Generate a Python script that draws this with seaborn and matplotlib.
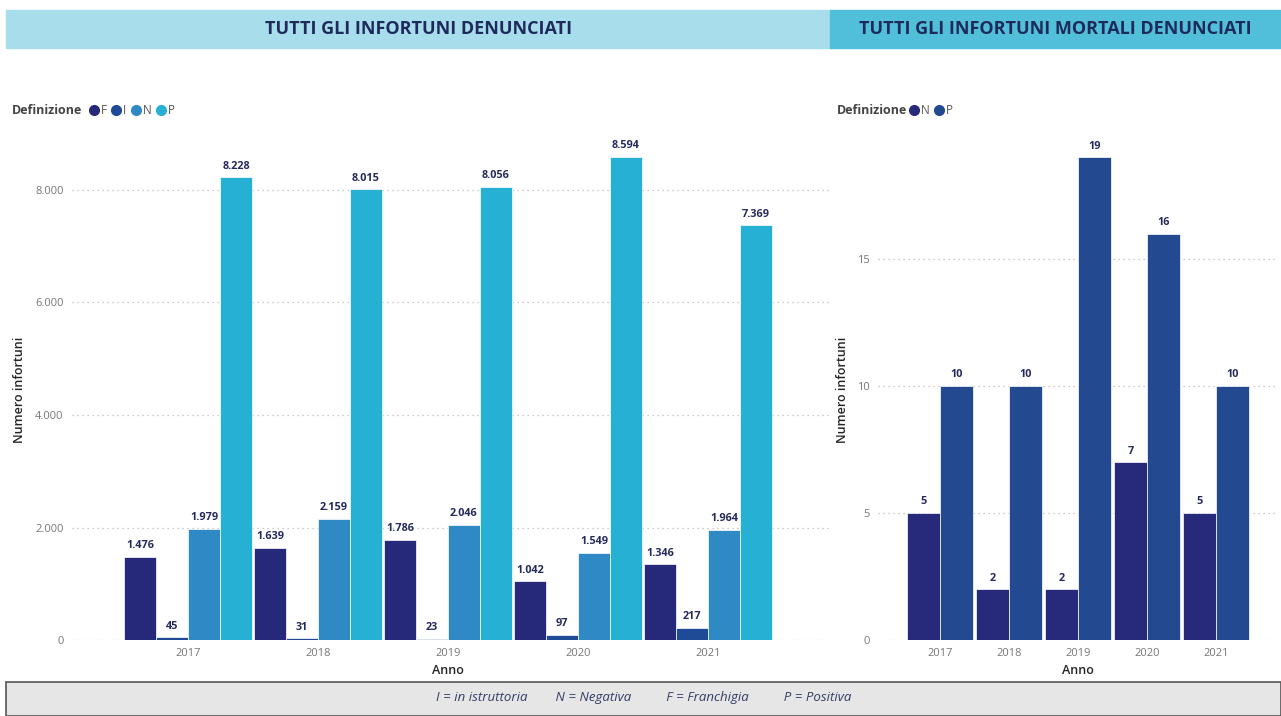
import matplotlib
matplotlib.use("Agg")
import matplotlib.pyplot as plt
from matplotlib.patches import Rectangle
from matplotlib.lines import Line2D
from matplotlib.ticker import FuncFormatter
import seaborn as sns
import pandas as pd

years = ["2017", "2018", "2019", "2020", "2021"]

# tutti gli infortuni denunciati
def_all = ["F", "I", "N", "P"]
f_vals = [1476, 1639, 1786, 1042, 1346]
i_vals = [45, 31, 23, 97, 217]
n_vals = [1979, 2159, 2046, 1549, 1964]
p_vals = [8228, 8015, 8056, 8594, 7369]

# infortuni mortali
def_mort = ["N", "P"]
mort_n = [5, 2, 2, 7, 5]
mort_p = [10, 10, 19, 16, 10]

colors_all = ["#26297A", "#1E4A96", "#2F89C4", "#25B0D4"]
colors_mort = ["#27297A", "#234A91"]

TITLE_COL = "#1F2A5C"
LABEL_COL = "#252A5E"
TICK_COL = "#777777"


def it_fmt(v, pos=None):
    return f"{v:,.0f}".replace(",", ".")


df_all = pd.DataFrame({
    "Anno": years * 4,
    "Definizione": [d for d in def_all for _ in years],
    "Numero infortuni": f_vals + i_vals + n_vals + p_vals,
})
df_mort = pd.DataFrame({
    "Anno": years * 2,
    "Definizione": [d for d in def_mort for _ in years],
    "Numero infortuni": mort_n + mort_p,
})

sns.set_theme(style="white")
plt.rcParams["font.family"] = ["Open Sans", "DejaVu Sans"]

W, H = 1281, 716
fig = plt.figure(figsize=(W / 100, H / 100), dpi=100)


def px(x0, y0, x1, y1):
    # pixel box -> figure rect
    return [x0 / W, 1 - y1 / H, (x1 - x0) / W, (y1 - y0) / H]


# header bars
fig.patches.append(Rectangle((6 / W, 1 - 48 / H), (830 - 6) / W, 38 / H,
                             transform=fig.transFigure, color="#A8DEEC", zorder=0))
fig.patches.append(Rectangle((830 / W, 1 - 48 / H), (1281 - 830) / W, 38 / H,
                             transform=fig.transFigure, color="#52BFDA", zorder=0))
fig.text(419 / W, 1 - 29 / H, "TUTTI GLI INFORTUNI DENUNCIATI", ha="center", va="center",
         fontsize=13, fontweight="bold", color=TITLE_COL)
fig.text(1055 / W, 1 - 29 / H, "TUTTI GLI INFORTUNI MORTALI DENUNCIATI", ha="center",
         va="center", fontsize=13, fontweight="bold", color=TITLE_COL)

# footer
fig.patches.append(Rectangle((6 / W, 0), (1281 - 6) / W, 34 / H, transform=fig.transFigure,
                             facecolor="#E6E6E6", edgecolor="#555555", linewidth=1.2, zorder=0))
fig.text(644 / W, 1 - 698 / H,
         "I = in istruttoria        N = Negativa          F = Franchigia          P = Positiva",
         ha="center", va="center", fontsize=9.5, fontstyle="italic", color="#333D66")


def style_axis(ax, ymax, ticks, fmt):
    ax.set_ylim(0, ymax)
    ax.set_yticks(ticks)
    ax.yaxis.set_major_formatter(FuncFormatter(fmt))
    ax.grid(axis="y", linestyle=(0, (1, 3)), color="#BBBBBB", linewidth=0.9)
    ax.set_axisbelow(True)
    for s in ax.spines.values():
        s.set_visible(False)
    ax.tick_params(axis="both", length=0, labelsize=8, colors=TICK_COL, pad=6)
    ax.set_xlabel("")
    ax.set_ylabel("")


# left chart
ax1 = fig.add_axes(px(72, 145, 830, 640))
sns.barplot(data=df_all, x="Anno", y="Numero infortuni", hue="Definizione",
            hue_order=def_all, palette=colors_all, width=0.985, saturation=1,
            edgecolor="white", linewidth=0.5, legend=False, ax=ax1)
ax1.set_xlim((72 - 188) / 130, (830 - 188) / 130)
style_axis(ax1, 8800, [0, 2000, 4000, 6000, 8000], it_fmt)
for c in ax1.containers:
    ax1.bar_label(c, labels=[it_fmt(v) for v in c.datavalues], padding=4,
                  fontsize=7.8, fontweight="bold", color=LABEL_COL)

# right chart
ax2 = fig.add_axes(px(878, 132, 1275, 640))
sns.barplot(data=df_mort, x="Anno", y="Numero infortuni", hue="Definizione",
            hue_order=def_mort, palette=colors_mort, width=0.96, saturation=1,
            edgecolor="white", linewidth=0.5, legend=False, ax=ax2)
ax2.set_xlim((878 - 940) / 69, (1275 - 940) / 69)
style_axis(ax2, 20, [0, 5, 10, 15], lambda v, p: f"{v:.0f}")
for c in ax2.containers:
    ax2.bar_label(c, labels=[f"{v:.0f}" for v in c.datavalues], padding=4,
                  fontsize=7.8, fontweight="bold", color=LABEL_COL)

# axis titles
for x in (20, 843):
    fig.text(x / W, 1 - 390 / H, "Numero infortuni", rotation=90, ha="center", va="center",
             fontsize=9, fontweight="semibold", color="#252525")
for x in (448, 1078):
    fig.text(x / W, 1 - 670 / H, "Anno", ha="center", va="center",
             fontsize=9, fontweight="semibold", color="#252525")


# legends
def legend(x_text, x_leg, labels, cols):
    fig.text(x_text / W, 1 - 111 / H, "Definizione", ha="left", va="center",
             fontsize=9, fontweight="bold", color="#444444")
    handles = [Line2D([], [], marker="o", linestyle="", markersize=7, color=c) for c in cols]
    leg = fig.legend(handles, labels, loc="center left", bbox_to_anchor=(x_leg / W, 1 - 111 / H),
                     ncol=len(labels), frameon=False, handletextpad=0.3, columnspacing=0.5,
                     handlelength=0.6, borderpad=0, borderaxespad=0, fontsize=8.5)
    for t in leg.get_texts():
        t.set_color("#555555")
    return leg


legend(12, 90, def_all, colors_all)
legend(837, 910, def_mort, colors_mort)

fig.savefig("out.png", dpi=100)
